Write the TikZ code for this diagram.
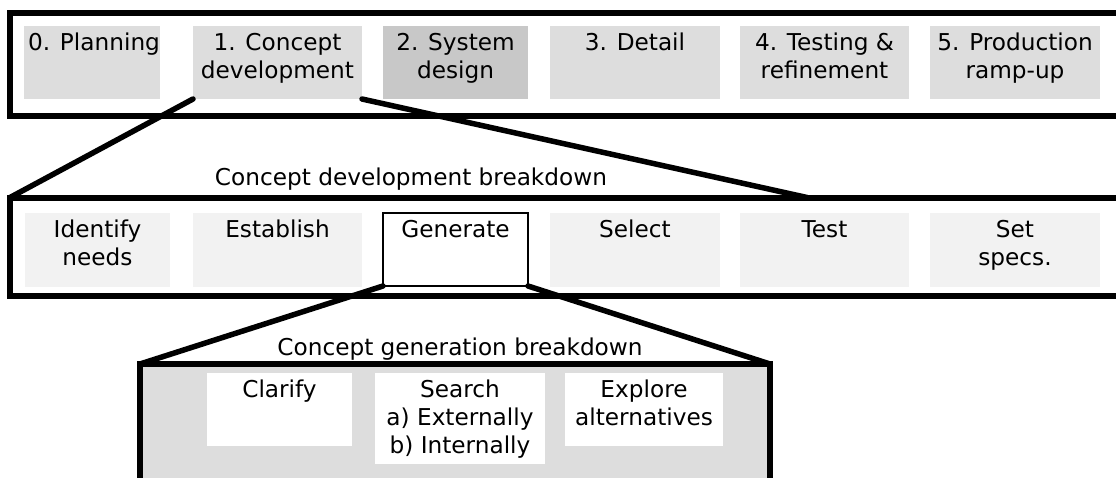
\documentclass[tikz,border=0pt]{standalone}
\usepackage{fontspec}
\setmainfont{DejaVu Sans}
\definecolor{gA}{HTML}{DDDDDD}
\definecolor{gB}{HTML}{C8C8C8}
\definecolor{gC}{HTML}{F2F2F2}
\begin{document}
\begin{tikzpicture}[x=1pt,y=-1pt,
  frame/.style={draw=black, line width=6pt, inner sep=0pt, outer sep=0pt, anchor=north west},
  box/.style={inner sep=0pt, outer sep=0pt, anchor=north west},
  lbl/.style={inner sep=0pt, outer sep=0pt, anchor=base, align=center, font=\fontsize{23.2}{28}\selectfont},
  roof/.style={line width=5.5pt, line cap=round},
]
\path[use as bounding box, clip] (0,0) rectangle (1116,477);
\fill[white] (0,0) rectangle (1116,477);

% frames
\node[frame, minimum width=1130pt, minimum height=103pt] (f1) at (10,13) {};
\node[frame, minimum width=1130pt, minimum height=98.5pt] (f2) at (10,197.5) {};
\node[frame, fill=gA, minimum width=630pt, minimum height=150pt] (f3) at (140,364) {};

% row 1
\node[box, fill=gA, minimum width=136pt, minimum height=73pt] (b0) at (24,26) {};
\node[box, fill=gA, minimum width=169pt, minimum height=73pt] (b1) at (193,26) {};
\node[box, fill=gB, minimum width=145pt, minimum height=73pt] (b2) at (383,26) {};
\node[box, fill=gA, minimum width=170pt, minimum height=73pt] (b3) at (550,26) {};
\node[box, fill=gA, minimum width=169pt, minimum height=73pt] (b4) at (740,26) {};
\node[box, fill=gA, minimum width=170pt, minimum height=73pt] (b5) at (930,26) {};
\node[lbl] (t0) at ([xshift=2pt,yshift=-24pt]b0.north) {0. Planning};
\node[lbl] (t1) at ([yshift=-52pt]b1.north) {1. Concept\\development};
\node[lbl] (t2) at ([yshift=-52pt]b2.north) {2. System\\design};
\node[lbl] (t3) at ([yshift=-24pt]b3.north) {3. Detail};
\node[lbl] (t4) at ([yshift=-52pt]b4.north) {4. Testing \&\\refinement};
\node[lbl] (t5) at ([yshift=-52pt]b5.north) {5. Production\\ramp-up};

% row 2
\node[box, fill=gC, minimum width=145pt, minimum height=74pt] (c0) at (25,213) {};
\node[box, fill=gC, minimum width=169pt, minimum height=74pt] (c1) at (193,213) {};
\node[box, fill=white, draw=black, line width=2pt, minimum width=145pt, minimum height=73pt] (c2) at (383,213) {};
\node[box, fill=gC, minimum width=170pt, minimum height=74pt] (c3) at (550,213) {};
\node[box, fill=gC, minimum width=169pt, minimum height=74pt] (c4) at (740,213) {};
\node[box, fill=gC, minimum width=170pt, minimum height=74pt] (c5) at (930,213) {};
\node[lbl] (s0) at ([yshift=-52pt]c0.north) {Identify\\needs};
\node[lbl] (s1) at ([yshift=-24pt]c1.north) {Establish};
\node[lbl] (s2) at ([yshift=-24pt]c2.north) {Generate};
\node[lbl] (s3) at ([yshift=-24pt]c3.north) {Select};
\node[lbl] (s4) at ([yshift=-24pt]c4.north) {Test};
\node[lbl] (s5) at ([yshift=-52pt]c5.north) {Set\\specs.};

% row 3
\node[box, fill=white, minimum width=145pt, minimum height=73pt] (d0) at (207,373) {};
\node[box, fill=white, minimum width=170pt, minimum height=91pt] (d1) at (375,373) {};
\node[box, fill=white, minimum width=158pt, minimum height=73pt] (d2) at (565,373) {};
\node[lbl] (u0) at ([yshift=-24pt]d0.north) {Clarify};
\node[lbl] (u1) at ([yshift=-80pt]d1.north) {Search\\a) Externally\\b) Internally};
\node[lbl] (u2) at ([yshift=-52pt]d2.north) {Explore\\alternatives};

% breakdown titles
\node[lbl] (h1) at (411,185) {Concept development breakdown};
\node[lbl] (h2) at (460,355) {Concept generation breakdown};

% zoom lines
\coordinate (r1) at (807,197.5);
\draw[roof] (b1.south west) -- (f2.north west);
\draw[roof] (b1.south east) -- (r1);
\draw[roof] (c2.south west) -- (f3.north west);
\draw[roof] (c2.south east) -- (f3.north east);
\end{tikzpicture}
\end{document}
